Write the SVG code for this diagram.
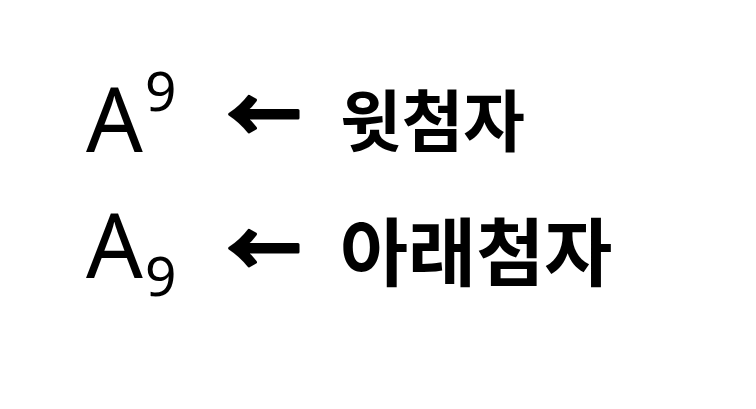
<svg xmlns="http://www.w3.org/2000/svg" width="756" height="409" viewBox="0 0 756 409">
<style>
.lat{font-family:"Noto Sans","Open Sans",sans-serif;fill:#000}
.ko{font-family:"Noto Sans CJK KR",sans-serif;font-weight:bold;fill:#000}
.arr{font-family:"Noto Sans CJK KR","DejaVu Sans",sans-serif;font-weight:bold;fill:#000;stroke:#000;stroke-width:3;stroke-linejoin:round}
</style>
<rect width="756" height="409" fill="#fff"/>
<g id="sup">
<text class="lat" x="86" y="152" font-size="89">A</text>
<text class="lat" x="145" y="111" font-size="55">9</text>
<text class="arr" x="227" y="142" font-size="74">←</text>
<text class="ko" x="340" y="146" font-size="67">윗첨자</text>
</g>
<g id="sub">
<text class="lat" x="86" y="278" font-size="89">A</text>
<text class="lat" x="145" y="296" font-size="55">9</text>
<text class="arr" x="227" y="276" font-size="74">←</text>
<text class="ko" x="340" y="280" font-size="74">아래첨자</text>
</g>
</svg>
